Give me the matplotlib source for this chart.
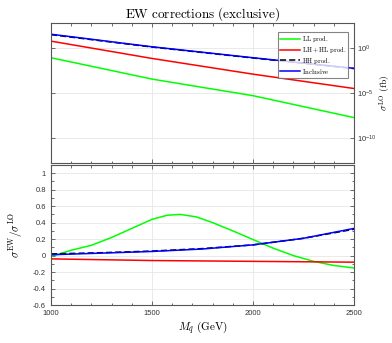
import numpy as np
import matplotlib
matplotlib.use("Agg")
import matplotlib.pyplot as plt
from matplotlib.ticker import MultipleLocator, FixedLocator, FuncFormatter

plt.rcParams['mathtext.fontset'] = 'cm'
plt.rcParams['font.family'] = ['Liberation Sans', 'DejaVu Sans']

# Upper panel: LO cross sections (log10 of fb)
m_up = [1000, 1500, 2000, 2500]
lo_LL = [-1.07, -3.45, -5.30, -7.74]
lo_LH = [0.78, -1.15, -2.90, -4.50]
lo_HH = [1.50, 0.12, -1.10, -2.28]
lo_inc = [1.55, 0.15, -1.07, -2.25]

# Lower panel: relative EW corrections
m_ll = [1000, 1100, 1200, 1300, 1400, 1500, 1575, 1640, 1720, 1800, 1900, 2000, 2100, 2200, 2300, 2400, 2500]
ew_LL = [-0.01, 0.065, 0.125, 0.22, 0.33, 0.44, 0.49, 0.50, 0.47, 0.40, 0.30, 0.195, 0.09, 0.00, -0.07, -0.12, -0.15]
m_ew = [1000, 1250, 1500, 1750, 2000, 2250, 2500]
ew_LH = [-0.04, -0.05, -0.06, -0.065, -0.07, -0.075, -0.08]
ew_HH = [0.02, 0.035, 0.055, 0.085, 0.13, 0.21, 0.32]
ew_inc = [0.01, 0.03, 0.05, 0.08, 0.13, 0.21, 0.33]

labels = [r'$\mathrm{LL\ prod.}$', r'$\mathrm{LH+HL\ prod.}$', r'$\mathrm{HH\ prod.}$', r'$\mathrm{Inclusive}$']

W, H = 392, 343
fig = plt.figure(figsize=(W / 100, H / 100), dpi=100)
ax1 = fig.add_axes([51 / W, 1 - 163 / H, 303 / W, 140 / H])
ax2 = fig.add_axes([51 / W, 1 - 305 / H, 303 / W, 140 / H])

frame_c = '#555555'
lw = 1.1
for ax in (ax1, ax2):
    for s in ax.spines.values():
        s.set_color(frame_c)
        s.set_linewidth(0.8)
    ax.tick_params(which='both', direction='in', top=True, right=True, color=frame_c,
                   labelsize=5.5, labelcolor='#333333', width=0.6)
    ax.tick_params(which='major', length=3)
    ax.tick_params(which='minor', length=1.8)
    ax.set_xlim(1000, 2500)
    ax.xaxis.set_major_locator(FixedLocator([1000, 1500, 2000, 2500]))
    ax.xaxis.set_minor_locator(MultipleLocator(100))
    ax.grid(True, which='major', color='#e6e6e6', linewidth=0.6)
    ax.set_axisbelow(True)

# Upper
ax1.plot(m_up, 10 ** np.array(lo_LL), color=(0, 1, 0), lw=lw, label=labels[0])
ax1.plot(m_up, 10 ** np.array(lo_LH), color=(1, 0, 0), lw=lw, label=labels[1])
ax1.plot(m_up, 10 ** np.array(lo_HH), color='black', lw=lw, ls=(0, (4, 2)), label=labels[2])
ax1.plot(m_up, 10 ** np.array(lo_inc), color=(0, 0, 1), lw=lw, label=labels[3])
ax1.set_yscale('log')
ax1.set_ylim(10 ** -12.8, 10 ** 2.8)
ax1.yaxis.set_major_locator(FixedLocator([1e-10, 1e-5, 1e0]))
ax1.yaxis.set_minor_locator(FixedLocator([]))
ax1.yaxis.tick_right()
ax1.tick_params(axis='y', which='both', left=True, right=True, pad=2)
ax1.yaxis.set_label_position('right')
ax1.set_ylabel(r'$\sigma^{\mathrm{LO}}\ (\mathrm{fb})$', fontsize=7)
ax1.yaxis.set_label_coords((377 - 51) / 303, 0.5)
ax1.tick_params(axis='x', labelbottom=False)
ax1.set_title(r'$\mathrm{EW\ corrections\ (exclusive)}$', fontsize=9.5, pad=4)
leg = ax1.legend(loc='upper right', fontsize=4.8, frameon=True, fancybox=False,
                 edgecolor='#666666', handlelength=3.0, borderpad=0.3, labelspacing=0.12,
                 handletextpad=0.3, borderaxespad=0, bbox_to_anchor=(0.98, 0.935))
leg.get_frame().set_linewidth(0.8)

# Lower
ax2.plot(m_ll, ew_LL, color=(0, 1, 0), lw=lw)
ax2.plot(m_ew, ew_LH, color=(1, 0, 0), lw=lw)
ax2.plot(m_ew, ew_HH, color='black', lw=lw, ls=(0, (4, 2)))
ax2.plot(m_ew, ew_inc, color=(0, 0, 1), lw=lw)
ax2.set_ylim(-0.6, 1.1)
ax2.yaxis.set_major_locator(MultipleLocator(0.2))
ax2.yaxis.set_minor_locator(MultipleLocator(0.1))
ax2.yaxis.set_major_formatter(FuncFormatter(lambda v, p: ('%g' % round(v, 1)) if abs(v) > 1e-9 else '0'))
ax2.set_ylabel(r'$\sigma^{\mathrm{EW}}/\sigma^{\mathrm{LO}}$', fontsize=8, labelpad=6)
ax2.set_xlabel(r'$M_{\tilde{q}}\ (\mathrm{GeV})$', fontsize=8, labelpad=2)

fig.savefig('out.png', dpi=100)
